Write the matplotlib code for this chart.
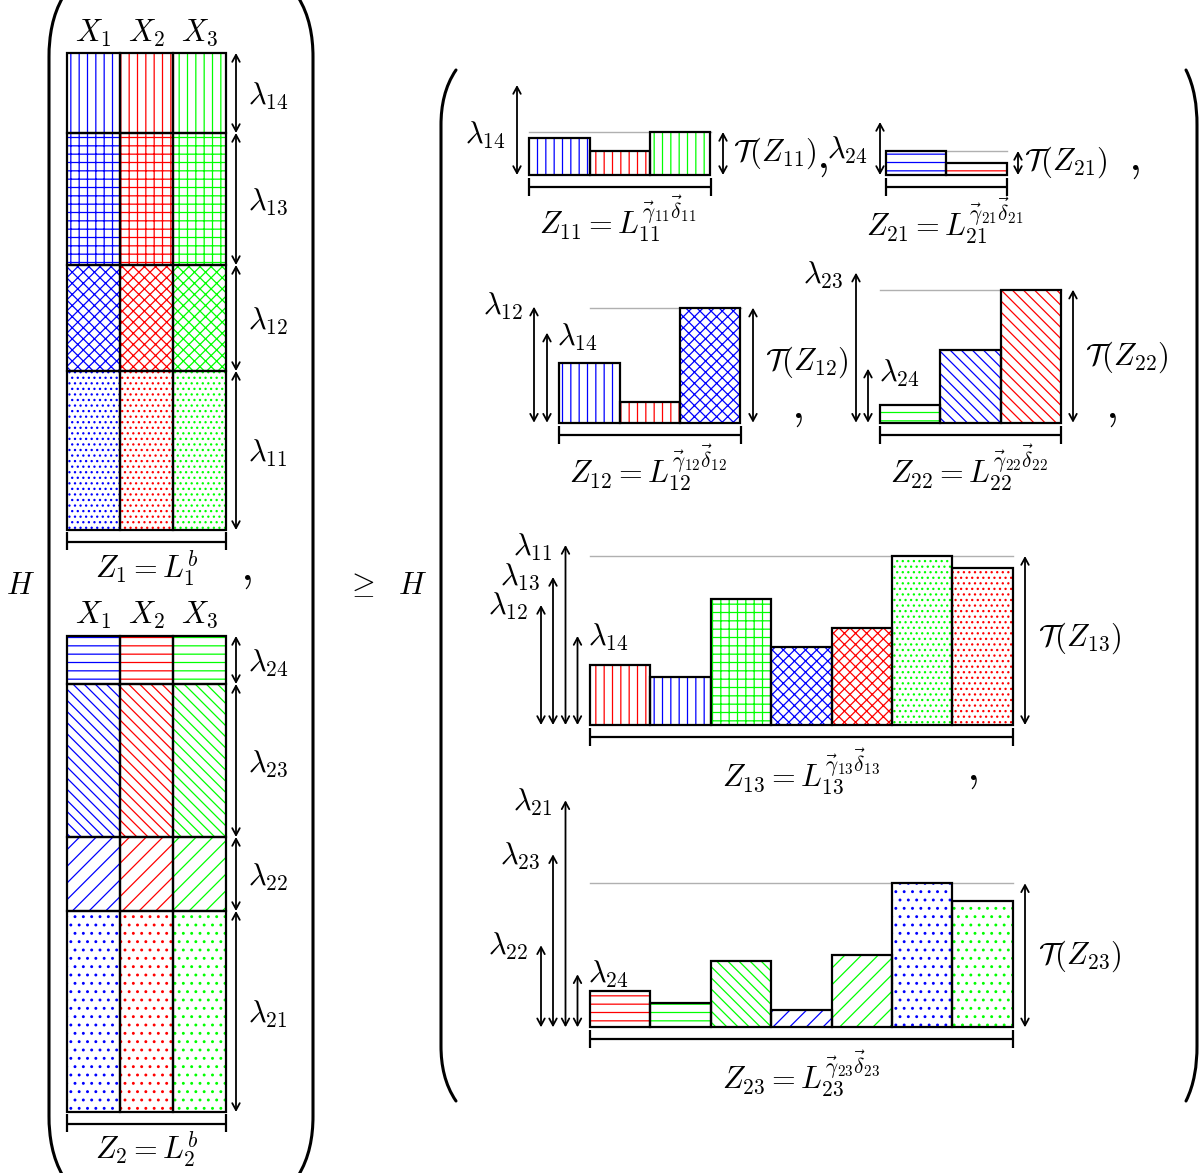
import matplotlib
matplotlib.use('Agg')
import matplotlib.pyplot as plt
from matplotlib.path import Path
from matplotlib.patches import PathPatch

plt.rcParams['mathtext.fontset'] = 'cm'
plt.rcParams['hatch.linewidth'] = 0.9

# ---------------- data ----------------
col_names = ['X_1', 'X_2', 'X_3']
col_colors = ['#0000ff', '#ff0000', '#00ff00']

# left blocks, rows listed top to bottom
block1_rows = ['14', '13', '12', '11']
block1_heights = [80, 132, 106, 159]
block2_rows = ['24', '23', '22', '21']
block2_heights = [48, 153, 74, 201]

# right-side sub charts: each bar = (source row, source column)
Z11_src = [('14', 0), ('14', 1), ('14', 2)]
Z11_heights = [37, 24, 43]
Z11_lams = ['14']
Z11_lam_heights = [90]

Z21_src = [('24', 0), ('24', 1)]
Z21_heights = [24, 12]
Z21_lams = ['24']
Z21_lam_heights = [53]

Z12_src = [('14', 0), ('14', 1), ('12', 0)]
Z12_heights = [60, 21, 115]
Z12_lams = ['12', '14']
Z12_lam_heights = [116, 90]

Z22_src = [('24', 2), ('23', 0), ('23', 1)]
Z22_heights = [18, 73, 133]
Z22_lams = ['23', '24']
Z22_lam_heights = [150, 54]

Z13_src = [('14', 1), ('14', 0), ('13', 2), ('12', 0), ('12', 1), ('11', 2), ('11', 1)]
Z13_heights = [60, 48, 126, 78, 97, 169, 157]
Z13_lams = ['12', '13', '11', '14']
Z13_lam_heights = [120, 148, 180, 89]

Z23_src = [('24', 1), ('24', 2), ('23', 2), ('22', 0), ('22', 2), ('21', 0), ('21', 2)]
Z23_heights = [36, 24, 66, 17, 72, 144, 126]
Z23_lams = ['22', '23', '21', '24']
Z23_lam_heights = [82, 173, 227, 53]

# ---------------- style ----------------
hatch_of = {'14': '||', '13': '++', '12': 'xxx', '11': '...',
            '24': '--', '23': '\\\\\\', '22': '//', '21': '..'}
FS = 22
EDGE_LW = 1.6
ARROW = dict(arrowstyle='<->,head_length=0.5,head_width=0.27', lw=1.3,
             color='black', shrinkA=0, shrinkB=0)

W, H = 1199, 1173
fig = plt.figure(figsize=(W / 100, H / 100), dpi=100)
ax = fig.add_axes([0, 0, 1, 1])
ax.set_xlim(0, W)
ax.set_ylim(H, 0)
ax.axis('off')


def hbar(x, bottom, height, width, color, hatch):
    ax.bar(x, height, width, bottom=bottom, align='edge', facecolor='white',
           edgecolor=color, linewidth=0, hatch=hatch, zorder=2)
    ax.bar(x, height, width, bottom=bottom, align='edge', facecolor='none',
           edgecolor='black', linewidth=EDGE_LW, zorder=3)


def darrow(x, y0, y1):
    ax.annotate('', xy=(x, y1), xytext=(x, y0), arrowprops=ARROW, zorder=4)


def bracket(x0, x1, yline, yt0, yt1):
    ax.plot([x0, x1], [yline, yline], color='black', lw=EDGE_LW, solid_capstyle='butt')
    ax.plot([x0, x0], [yt0, yt1], color='black', lw=EDGE_LW, solid_capstyle='butt')
    ax.plot([x1, x1], [yt0, yt1], color='black', lw=EDGE_LW, solid_capstyle='butt')


def paren(x_end, x_mid, y_top, y_bot, curve, lw=2.2):
    dx = x_end - x_mid
    verts = [(x_end, y_top), (x_mid + dx * 0.25, y_top + curve * 0.3),
             (x_mid, y_top + curve * 0.65), (x_mid, y_top + curve),
             (x_mid, y_bot - curve),
             (x_mid, y_bot - curve * 0.65), (x_mid + dx * 0.25, y_bot - curve * 0.3),
             (x_end, y_bot)]
    codes = [Path.MOVETO, Path.CURVE4, Path.CURVE4, Path.CURVE4, Path.LINETO,
             Path.CURVE4, Path.CURVE4, Path.CURVE4]
    ax.add_patch(PathPatch(Path(verts, codes), facecolor='none', edgecolor='black',
                           lw=lw, capstyle='round'))


def text(x, y, s, ha='center', va='center', fs=FS):
    ax.text(x, y, s, ha=ha, va=va, fontsize=fs)


# ---------------- left blocks ----------------
def left_block(x0, top, rows, heights, header_y, label, label_y):
    cw = 53
    for j, name in enumerate(col_names):
        text(x0 + cw * (j + 0.5), header_y, '$%s$' % name)
    y = top
    for r, h in zip(rows, heights):
        for j in range(3):
            hbar(x0 + j * cw, y, h, cw, col_colors[j], hatch_of[r])
        darrow(236, y, y + h)
        text(268, y + h / 2 + 3, r'$\lambda_{%s}$' % r)
        y += h
    bracket(x0, x0 + 3 * cw, y + 12, y + 2, y + 20)
    text(x0 + 1.5 * cw, label_y, label)


left_block(67, 53, block1_rows, block1_heights, 33, r'$Z_1=L_1^b$', 569)
left_block(67, 636, block2_rows, block2_heights, 615, r'$Z_2=L_2^b$', 1150)

paren(63, 49, -3, 1176, 60)
paren(298, 313, -3, 1176, 60)
paren(456, 441, 70, 1101, 55)
paren(1186, 1197, 70, 1101, 55)

text(20, 585, '$H$')
text(360, 585, r'$\geq$')
text(412, 585, '$H$')


# ---------------- right sub charts ----------------
def sub_chart(key, src, heights, lams, lam_heights, x0, base, lam_xs, lam_labels,
              t_x, t_lab, gray_x0, lab_xy):
    bw = 60.4
    n = len(heights)
    tallest = max(heights)
    ax.plot([gray_x0, x0 + n * bw], [base - tallest, base - tallest],
            color='#b0b0b0', lw=1.0, zorder=1)
    for i, ((r, c), h) in enumerate(zip(src, heights)):
        hbar(x0 + i * bw, base, -h, bw, col_colors[c], hatch_of[r])
    for lx, lam, lh, (ha, tx, ty) in zip(lam_xs, lams, lam_heights, lam_labels):
        darrow(lx, base, base - lh)
        text(tx, ty, r'$\lambda_{%s}$' % lam, ha=ha)
    darrow(t_x, base, base - tallest)
    text(t_lab[0], t_lab[1], r'$\mathcal{T}(Z_{%s})$' % key, ha='left')
    bracket(x0, x0 + n * bw, base + 12, base + 3, base + 21)
    text(lab_xy[0], lab_xy[1],
         r'$Z_{%s}=L_{%s}^{\vec{\gamma}_{%s}\vec{\delta}_{%s}}$' % (key, key, key, key))


sub_chart('11', Z11_src, Z11_heights, Z11_lams, Z11_lam_heights, 529.3, 175,
          [517], [('right', 506, 135)], 723, (733, 153), 529.3, (618, 219))
sub_chart('21', Z21_src, Z21_heights, Z21_lams, Z21_lam_heights, 886, 175,
          [880], [('right', 868, 150)], 1018, (1024, 162), 886, (945, 221))
sub_chart('12', Z12_src, Z12_heights, Z12_lams, Z12_lam_heights, 559.3, 422.7,
          [534, 547], [('right', 523, 306), ('left', 557, 337)], 753, (765, 362), 590,
          (648, 468))
sub_chart('22', Z22_src, Z22_heights, Z22_lams, Z22_lam_heights, 880, 422.7,
          [856, 868], [('right', 843, 275), ('left', 879, 373)], 1073, (1085, 357), 880,
          (969, 468))
sub_chart('13', Z13_src, Z13_heights, Z13_lams, Z13_lam_heights, 590, 725,
          [541, 553, 565.5, 577.5],
          [('right', 528, 606), ('right', 540, 577), ('right', 552, 547), ('left', 588, 637)],
          1025, (1038, 638), 590, (801, 772))
sub_chart('23', Z23_src, Z23_heights, Z23_lams, Z23_lam_heights, 590, 1027.3,
          [541, 553, 565.5, 577.5],
          [('right', 528, 946), ('right', 540, 856), ('right', 552, 802), ('left', 588, 974)],
          1025, (1038, 956), 590, (801, 1074))

# separating commas
for cx, cy in [(246, 580), (822, 168), (1134, 170), (797, 418), (1111, 418), (972, 780)]:
    ax.text(cx, cy, '$,$', ha='center', va='baseline', fontsize=34)

fig.savefig('out.png', dpi=100)
